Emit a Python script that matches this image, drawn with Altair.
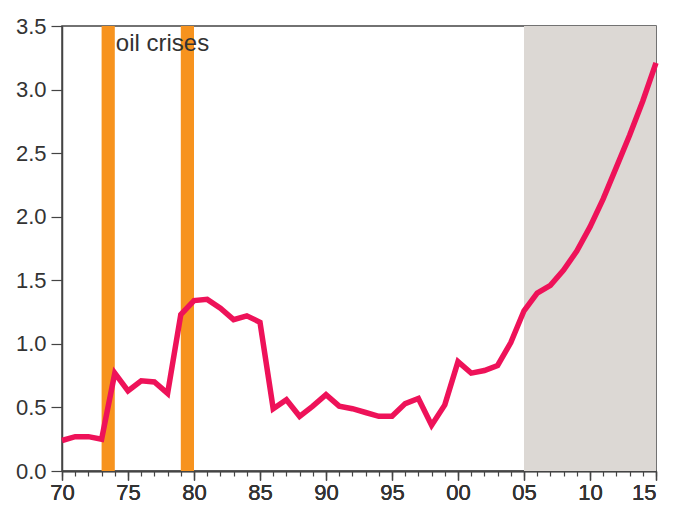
import altair as alt
import pandas as pd

years = list(range(1970, 2016))
values = [0.24, 0.27, 0.27, 0.25, 0.77, 0.63, 0.71, 0.70, 0.61, 1.23,
          1.34, 1.35, 1.28, 1.19, 1.22, 1.17, 0.49, 0.56, 0.43, 0.51,
          0.60, 0.51, 0.49, 0.46, 0.43, 0.43, 0.53, 0.57, 0.36, 0.52,
          0.86, 0.77, 0.79, 0.83, 1.01, 1.26, 1.40, 1.46, 1.58, 1.73,
          1.92, 2.14, 2.39, 2.64, 2.91, 3.21]

crisis_start = [1973, 1979]
crisis_end = [1974, 1980]
forecast_start = [2005]
forecast_end = [2015]
label_text = ["oil crises"]
label_x = [1974]
label_y = [3.30]

major_ticks = list(range(1970, 2016, 5))
minor_ticks = list(range(1970, 2016))
y_ticks = [0, 0.5, 1.0, 1.5, 2.0, 2.5, 3.0, 3.5]
y_min, y_max = 0, 3.5

line_df = pd.DataFrame({"year": years, "value": values})
crisis_df = pd.DataFrame({"x": crisis_start, "x2": crisis_end})
fc_df = pd.DataFrame({"x": forecast_start, "x2": forecast_end})
txt_df = pd.DataFrame({"x": label_x, "y": label_y, "t": label_text})

FONT = "Liberation Sans"
FS = 22
xscale = alt.Scale(domain=[1970, 2015], nice=False, zero=False)
yscale = alt.Scale(domain=[y_min, y_max], nice=False)

x_major_axis = alt.Axis(values=major_ticks, tickSize=9, labelPadding=2,
                        labelFont=FONT, labelFontSize=FS, labelColor="#333333",
                        labelFlush=False,
                        labelAlign={"condition": {"test": "datum.value == 2015", "value": "right"},
                                    "value": "center"},
                        labelExpr="(datum.value % 100) < 10 ? '0' + (datum.value % 100) : '' + (datum.value % 100)",
                        title=None, grid=False, orient="bottom")
x_minor_axis = alt.Axis(values=minor_ticks, tickSize=5, labels=False,
                        title=None, grid=False, orient="bottom", domain=False)
y_axis = alt.Axis(values=y_ticks, format=".1f",
                  tickSize=11, labelPadding=5, title=None, grid=False,
                  labelFont=FONT, labelFontSize=FS, labelColor="#333333",
                  minExtent=54, maxExtent=54)

fc = alt.Chart(fc_df).mark_rect(color="#DCD8D4").encode(
    x=alt.X("x:Q", scale=xscale, axis=x_major_axis),
    x2="x2:Q",
    y=alt.Y(datum=y_max, scale=yscale, axis=y_axis),
    y2=alt.Y2(datum=y_min),
)

crisis = alt.Chart(crisis_df).mark_rect(color="#F7931E").encode(
    x=alt.X("x:Q", scale=xscale, axis=x_minor_axis),
    x2="x2:Q",
    y=alt.Y(datum=y_max, scale=yscale, axis=y_axis),
    y2=alt.Y2(datum=y_min),
)

line = alt.Chart(line_df).mark_line(color="#EE1259", strokeWidth=5.5, strokeJoin="miter").encode(
    x=alt.X("year:Q", scale=xscale, axis=x_major_axis),
    y=alt.Y("value:Q", scale=yscale, axis=y_axis),
)

text = alt.Chart(txt_df).mark_text(align="left", baseline="alphabetic", dx=1,
                                   font=FONT, fontSize=24, color="#333333").encode(
    x=alt.X("x:Q", scale=xscale, axis=x_major_axis),
    y=alt.Y("y:Q", scale=yscale, axis=y_axis),
    text="t:N",
)

chart = alt.layer(fc, crisis, line, text).resolve_axis(x="independent").properties(
    width=659, height=495,
    autosize=alt.AutoSizeParams(type="fit", contains="padding"),
    padding={"left": 0, "top": 7, "right": 0, "bottom": 0},
).configure_view(
    stroke="#444444", strokeWidth=1.5
).configure_axis(
    labelFont=FONT, labelFontSize=FS, labelColor="#333333",
    domainColor="#444444", domainWidth=1.5, tickColor="#444444", tickWidth=1.2,
)

chart.save("out.html", embed_options={"renderer": "svg", "actions": False})
